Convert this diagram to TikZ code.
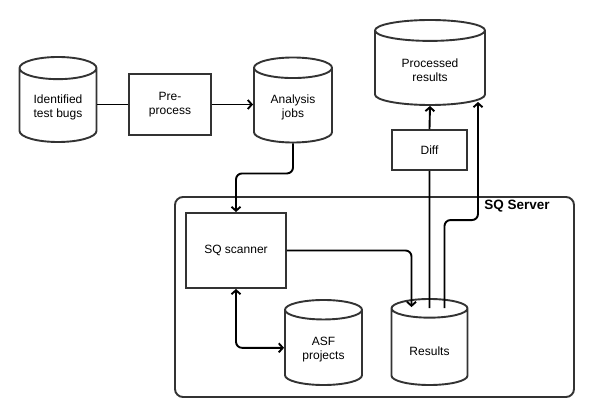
\documentclass[tikz,border=0pt]{standalone}
\usepackage{fontspec}
\setmainfont{Liberation Sans}
\usepackage{tikz}
\usetikzlibrary{positioning, calc, shapes.geometric, arrows.meta}

\begin{document}
\begin{tikzpicture}[x=1pt, y=-1pt, line width=1.9pt, auto, >={Straight Barb[length=4pt, width=9pt]}]
        % Define block styles
        \tikzstyle{block} = [rectangle, draw=black!80, fill=white, text centered, align=center, font=\fontsize{12}{14}\selectfont]
        \tikzstyle{database} = [cylinder, shape border rotate=90, aspect=0.4, draw=black!80, fill=white, align=center, anchor=shape center, font=\fontsize{12}{14}\selectfont, execute at begin node={\rule{0pt}{13pt}}]
        \tikzstyle{server} = [rectangle, draw=black!80, rounded corners=8pt, minimum width=399pt, minimum height=200pt]

        \useasboundingbox (0,0) rectangle (605,417);

        % Place nodes
        \node [server] (sq_server) at (374.5,297) {};
        \node [font=\fontsize{13.5}{16}\bfseries\selectfont] (sq_server_label) at (517,206) {SQ Server};
        \node [database, minimum width=77pt, minimum height=85pt] (identified_bugs) at (58,99.5) {Identified\\test bugs};
        \node [block, minimum width=82pt, minimum height=61pt] (pre_process) at (170,104.5) {Pre-\\process};
        \node [database, minimum width=78pt, minimum height=85pt] (analysis_jobs) at (293,100) {Analysis\\jobs};
        \node [database, minimum width=110pt, minimum height=85pt, aspect=0.33] (processed_results) at (430,62.5) {Processed\\results};
        \node [block, minimum width=75pt, minimum height=40pt] (diff) at (429.5,150) {Diff};
        \node [block, minimum width=100pt, minimum height=75pt] (sq_scanner) at (236,250.5) {SQ scanner};
        \node [database, minimum width=77pt, minimum height=85pt] (asf_projects) at (323.5,342.5) {ASF\\projects};
        \node [database, minimum width=76pt, minimum height=86pt] (results) at (429.5,342) {Results};

        % Draw connections as arrows
        \draw (identified_bugs.east |- pre_process.west) -- (pre_process.west);
        \draw [->] (pre_process.east) -- (analysis_jobs.west |- pre_process.east);
        \draw [->, rounded corners=6pt] (analysis_jobs.south) -- ++(0,30) -| (sq_scanner.north);
        \draw [<->, rounded corners=6pt] (sq_scanner.south) |- ($(asf_projects.west)+(0,-2)$);
        \draw [->, rounded corners=6pt] (sq_scanner.east) -| ($(results.north)+(-18,9)$);
        \draw ($(results.north)+(0,10)$) -- (diff.south);
        \draw [->] (diff.north) -- (processed_results.south);
        \draw [->, rounded corners=6pt] ($(results.north)+(15,10)$) -- ++(0,-88) -| ($(processed_results.south)+(48,-4)$);
    \end{tikzpicture}
\end{document}
